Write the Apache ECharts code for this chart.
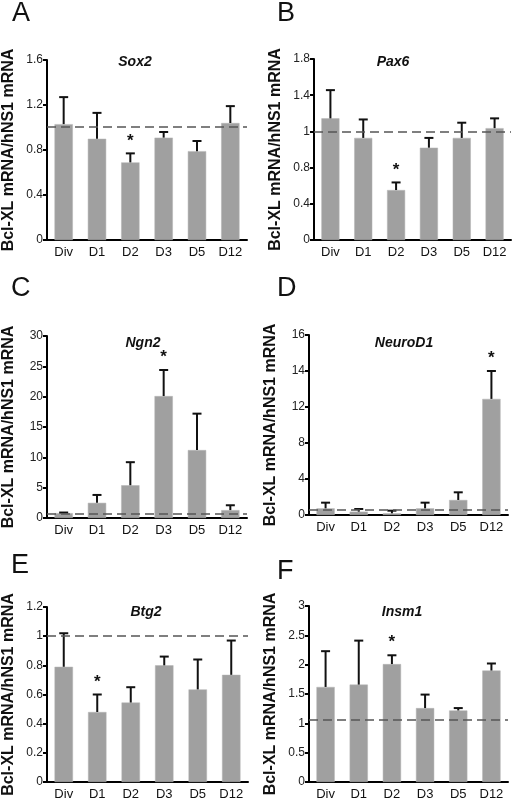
<!DOCTYPE html>
<html>
<head>
<meta charset="utf-8">
<script src="https://cdn.jsdelivr.net/npm/echarts@6/dist/echarts.min.js"></script>
<style>html,body{margin:0;padding:0;background:#fff}#c{width:512px;height:801px}</style>
</head>
<body>
<div id="c"></div>
<script>
var categories = ['Div', 'D1', 'D2', 'D3', 'D5', 'D12'];
var yAxisName = 'Bcl-XL mRNA/hNS1 mRNA';

// Panel A - Sox2
var sox2Values = [1.03, 0.90, 0.69, 0.91, 0.79, 1.04];
var sox2Errors = [1.27, 1.13, 0.77, 0.96, 0.88, 1.19];
var sox2Sig = [0, 0, 1, 0, 0, 0];
var sox2Ref = 1.01;
var sox2Ticks = ['0', '0.4', '0.8', '1.2', '1.6'];
var sox2Step = 0.4;

// Panel B - Pax6 (tick labels as printed in the figure)
var pax6Values = [1.12, 0.94, 0.46, 0.85, 0.94, 1.03];
var pax6Errors = [1.38, 1.11, 0.53, 0.94, 1.08, 1.12];
var pax6Sig = [0, 0, 1, 0, 0, 0];
var pax6Ref = 1.0;
var pax6Ticks = ['0', '0.4', '0.8', '1', '1.4', '1.8'];
var pax6Step = 1 / 3;

// Panel C - Ngn2
var ngn2Values = [0.8, 2.5, 5.4, 20.1, 11.2, 1.3];
var ngn2Errors = [0.9, 3.8, 9.2, 24.4, 17.2, 2.1];
var ngn2Sig = [0, 0, 0, 1, 0, 0];
var ngn2Ref = 0.7;
var ngn2Ticks = ['0', '5', '10', '15', '20', '25', '30'];
var ngn2Step = 5;

// Panel D - NeuroD1 (tick labels as printed in the figure)
var neurod1Values = [0.74, 0.37, 0.19, 0.74, 1.67, 12.9];
var neurod1Errors = [1.37, 0.67, 0.48, 1.37, 2.52, 16.0];
var neurod1Sig = [0, 0, 0, 0, 0, 1];
var neurod1Ref = 0.56;
var neurod1Ticks = ['0', '4', '8', '12', '14', '16'];
var neurod1Step = 4;

// Panel E - Btg2
var btg2Values = [0.79, 0.48, 0.545, 0.80, 0.635, 0.735];
var btg2Errors = [1.02, 0.60, 0.65, 0.86, 0.84, 0.97];
var btg2Sig = [0, 1, 0, 0, 0, 0];
var btg2Ref = 1.0;
var btg2Ticks = ['0', '0.2', '0.4', '0.6', '0.8', '1', '1.2'];
var btg2Step = 0.2;

// Panel F - Insm1
var insm1Values = [1.62, 1.66, 2.01, 1.26, 1.22, 1.90];
var insm1Errors = [2.23, 2.41, 2.16, 1.49, 1.26, 2.02];
var insm1Sig = [0, 0, 1, 0, 0, 0];
var insm1Ref = 1.06;
var insm1Ticks = ['0', '0.5', '1', '1.5', '2', '2.5', '3'];
var insm1Step = 0.5;

var panels = [
  {letter: 'A', title: 'Sox2', values: sox2Values, errors: sox2Errors, sig: sox2Sig, ref: sox2Ref, ticks: sox2Ticks, step: sox2Step,
   grid: {left: 46, top: 60, width: 201, height: 180}, letterPos: [12, 0], titlePos: [135, 62]},
  {letter: 'B', title: 'Pax6', values: pax6Values, errors: pax6Errors, sig: pax6Sig, ref: pax6Ref, ticks: pax6Ticks, step: pax6Step,
   grid: {left: 314, top: 59, width: 197, height: 181}, letterPos: [277, 0], titlePos: [393, 62]},
  {letter: 'C', title: 'Ngn2', values: ngn2Values, errors: ngn2Errors, sig: ngn2Sig, ref: ngn2Ref, ticks: ngn2Ticks, step: ngn2Step,
   grid: {left: 43, top: 336, width: 204, height: 182}, letterPos: [11, 275], titlePos: [143, 343]},
  {letter: 'D', title: 'NeuroD1', values: neurod1Values, errors: neurod1Errors, sig: neurod1Sig, ref: neurod1Ref, ticks: neurod1Ticks, step: neurod1Step,
   grid: {left: 309, top: 335, width: 199, height: 180}, letterPos: [277, 275], titlePos: [404, 343]},
  {letter: 'E', title: 'Btg2', values: btg2Values, errors: btg2Errors, sig: btg2Sig, ref: btg2Ref, ticks: btg2Ticks, step: btg2Step,
   grid: {left: 45, top: 607, width: 203, height: 180}, letterPos: [11, 552], titlePos: [146, 612]},
  {letter: 'F', title: 'Insm1', values: insm1Values, errors: insm1Errors, sig: insm1Sig, ref: insm1Ref, ticks: insm1Ticks, step: insm1Step,
   grid: {left: 309, top: 606, width: 199, height: 180}, letterPos: [277, 558], titlePos: [402, 612]}
];

var FONT = '"Liberation Sans", Arial, sans-serif';
var grids = [], xAxes = [], yAxes = [], series = [], graphics = [];

panels.forEach(function (p, i) {
  grids.push(Object.assign({containLabel: false}, p.grid));
  xAxes.push({
    type: 'category', gridIndex: i, data: categories, boundaryGap: true,
    axisLine: {show: true, lineStyle: {color: '#000', width: 2}},
    axisTick: {show: false},
    axisLabel: {color: '#111', fontSize: 13, fontFamily: FONT, margin: 6}
  });
  var step = p.step, labels = p.ticks;
  yAxes.push({
    type: 'value', gridIndex: i, min: 0, max: step * (labels.length - 1), interval: step,
    name: yAxisName, nameLocation: 'middle', nameGap: 30, nameRotate: 90,
    nameTextStyle: {fontSize: 16, fontWeight: 'bold', color: '#111', fontFamily: FONT},
    axisLine: {show: true, lineStyle: {color: '#000', width: 2}},
    axisTick: {show: true, length: 4, lineStyle: {color: '#000', width: 2}},
    splitLine: {show: false},
    axisLabel: {color: '#222', fontSize: 12, fontFamily: FONT, margin: 4,
      formatter: function (v) { var k = Math.round(v / step); return labels[k] !== undefined ? labels[k] : ''; }}
  });
  series.push({
    type: 'bar', xAxisIndex: i, yAxisIndex: i, data: p.values, barWidth: '55%',
    itemStyle: {color: '#a0a0a0', borderColor: '#b4b4b4', borderWidth: 0.5},
    silent: true, z: 2,
    markLine: {
      silent: true, symbol: ['none', 'none'], label: {show: false},
      lineStyle: {type: [9, 5], color: '#555', width: 1.5},
      data: [{yAxis: p.ref}], z: 5
    }
  });
  var errData = p.values.map(function (v, k) { return [k, v, p.errors[k], p.sig[k]]; });
  series.push({
    type: 'custom', xAxisIndex: i, yAxisIndex: i, data: errData, z: 4, silent: true,
    encode: {x: 0, y: [1, 2]},
    renderItem: function (params, api) {
      var x = api.value(0);
      var a = api.coord([x, api.value(1)]);
      var b = api.coord([x, api.value(2)]);
      var children = [
        {type: 'line', shape: {x1: a[0], y1: a[1], x2: b[0], y2: b[1]}, style: {stroke: '#111', lineWidth: 2}},
        {type: 'line', shape: {x1: b[0] - 4.5, y1: b[1], x2: b[0] + 4.5, y2: b[1]}, style: {stroke: '#111', lineWidth: 2}}
      ];
      if (api.value(3)) {
        children.push({type: 'text', x: b[0], y: b[1] - 4,
          style: {text: '*', fontSize: 17, fontWeight: 'bold', fill: '#111', fontFamily: FONT, align: 'center', verticalAlign: 'bottom'}});
      }
      return {type: 'group', children: children};
    }
  });
  graphics.push({type: 'text', left: p.letterPos[0], top: p.letterPos[1],
    style: {text: p.letter, fontSize: 27, fill: '#111', fontFamily: FONT}});
  graphics.push({type: 'text', x: p.titlePos[0], y: p.titlePos[1],
    style: {text: p.title, fontSize: 14, fontWeight: 'bold', fontStyle: 'italic', fill: '#111', fontFamily: FONT, align: 'center', verticalAlign: 'middle'}});
});

var chart = echarts.init(document.getElementById('c'), null, {renderer: 'canvas'});
chart.setOption({
  animation: false,
  backgroundColor: '#fff',
  grid: grids, xAxis: xAxes, yAxis: yAxes, series: series, graphic: graphics
});
</script>
</body>
</html>
